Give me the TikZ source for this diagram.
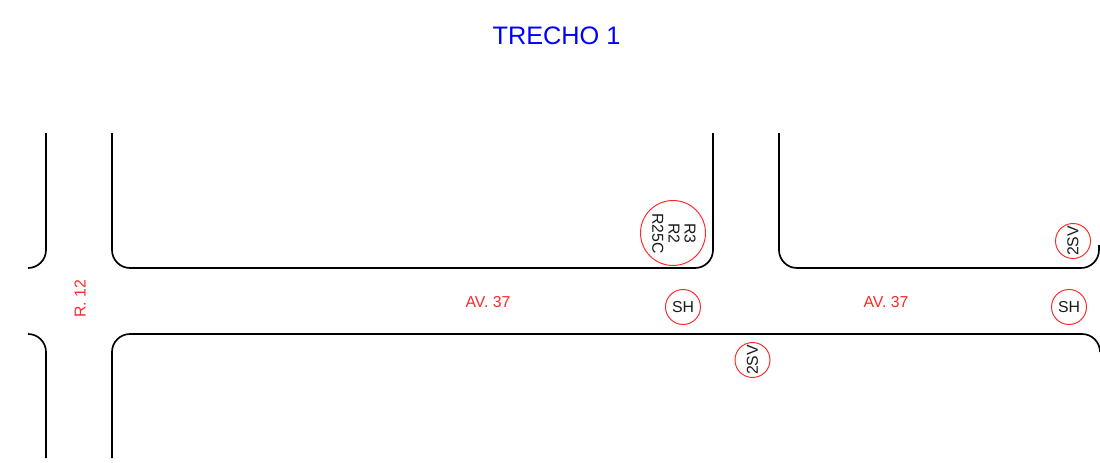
\documentclass[tikz,border=0pt]{standalone}
\usepackage{fontspec}
\setmainfont{Liberation Sans}
\definecolor{sigred}{RGB}{255,40,40}
\definecolor{titleblue}{RGB}{0,0,255}
\definecolor{ink}{RGB}{25,25,25}
\begin{document}
\begin{tikzpicture}[x=0.02cm,y=-0.02cm,
  road/.style={draw=black,line width=0.95pt,line cap=butt},
  sign/.style={circle,draw=sigred,line width=0.55pt,minimum size=0.7cm,inner sep=0pt,text=ink,font=\fontsize{9pt}{9.4pt}\selectfont},
  bigsign/.style={sign,minimum size=1.3cm,align=center},
  street/.style={text=sigred,font=\fontsize{9pt}{10pt}\selectfont,inner sep=0pt},
  title/.style={text=titleblue,font=\fontsize{14.4pt}{16pt}\selectfont,inner sep=0pt}]
\useasboundingbox (0,0) rectangle (1100,463);
\node[title] (t) at (556.5,35.5) {TRECHO 1};
% kerbs
\draw[road] (46,133) -- (46,250) arc[start angle=0,end angle=90,radius=18];
\draw[road] (112,133) -- (112,250) arc[start angle=180,end angle=90,radius=18] -- (695,268) arc[start angle=90,end angle=0,radius=18] -- (713,133);
\draw[road] (779,133) -- (779,250) arc[start angle=180,end angle=90,radius=18] -- (1081,268) arc[start angle=90,end angle=0,radius=18] -- (1099,245);
\draw[road] (28,334) arc[start angle=-90,end angle=0,radius=18] -- (46,458);
\draw[road] (112,458) -- (112,352) arc[start angle=180,end angle=270,radius=18] -- (1082,334) arc[start angle=-90,end angle=0,radius=18];
% street names
\node[street] (av1) at (488,302.5) {AV. 37};
\node[street] (av2) at (886,302.5) {AV. 37};
\node[street,rotate=90] (r12) at (80,299) {R. 12};
% signs
\node[bigsign] (c1) at (673,233) {};
\node[rotate=-90,align=center,text=ink,inner sep=0pt,font=\fontsize{9pt}{9.2pt}\selectfont] (c1t) at (674,233.5) {R3\\R2\\R25C};
\node[sign] (s1) at (683,307) {SH};
\node[sign] (s2) at (1069,307) {SH};
\node[sign] (v1) at (752.5,360) {\rotatebox{90}{2SV}};
\node[sign] (v2) at (1073,241) {\rotatebox{90}{2SV}};
\end{tikzpicture}
\end{document}
